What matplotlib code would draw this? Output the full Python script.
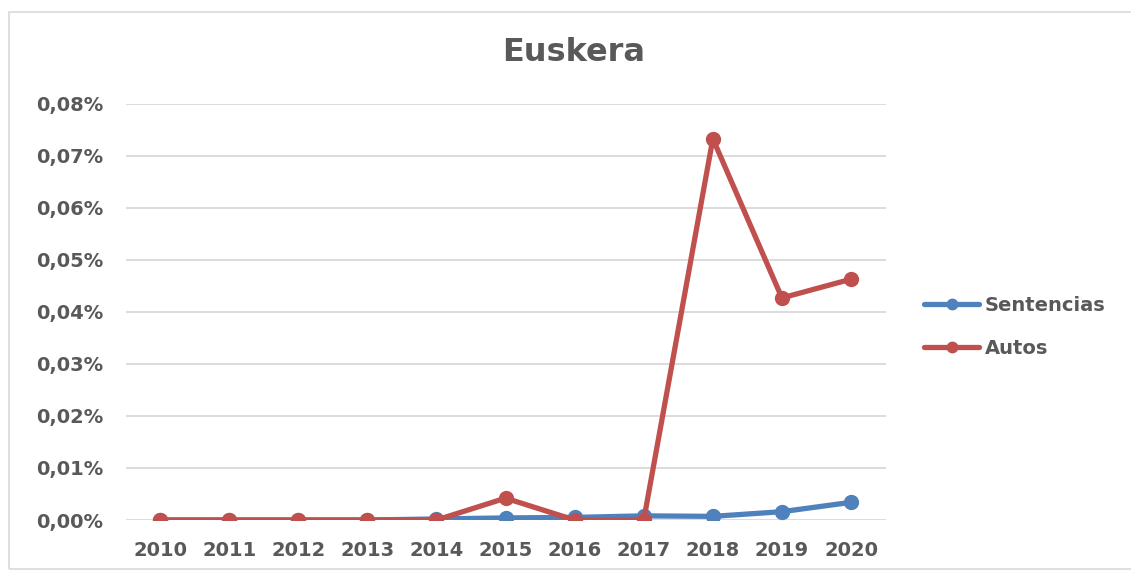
import matplotlib.pyplot as plt
from matplotlib.patches import Rectangle
from matplotlib.ticker import FuncFormatter

years = ['2010', '2011', '2012', '2013', '2014', '2015', '2016', '2017', '2018', '2019', '2020']
# values in percent
sentencias = [0.0, 0.0, 0.0, 0.0, 0.0002, 0.0004, 0.0005, 0.0008, 0.0007, 0.0016, 0.0034]
autos = [0.0, 0.0, 0.0, 0.0, 0.0, 0.0042, 0.0, 0.0, 0.0733, 0.0427, 0.0463]

txt = '#595959'
plt.rcParams['font.family'] = ['DejaVu Sans']

fig = plt.figure(figsize=(11.31, 5.71), dpi=100)
ax = fig.add_axes([0.111, 0.0893, 0.672, 0.7287])

# chart border
fig.patches.append(Rectangle((9 / 1131, 0.003), 1.2, 1 - 12 / 571 - 0.003,
                             transform=fig.transFigure, fill=False,
                             edgecolor='#d9d9d9', linewidth=1.2))

x = list(range(len(years)))
ax.plot(x, sentencias, color='#4F81BD', linewidth=3.8, marker='o', markersize=10,
        label='Sentencias', solid_capstyle='round', zorder=3)
ax.plot(x, autos, color='#C0504D', linewidth=3.8, marker='o', markersize=10,
        label='Autos', solid_capstyle='round', zorder=4)

ax.set_xlim(-0.5, len(years) - 0.5)
ax.set_ylim(0, 0.08)
ax.set_yticks([i / 100 for i in range(9)])
ax.yaxis.set_major_formatter(FuncFormatter(lambda v, p: f'{v:.2f}%'.replace('.', ',')))
ax.set_xticks(x)
ax.set_xticklabels(years)
ax.grid(axis='y', color='#d9d9d9', linewidth=1.3)
ax.set_axisbelow(True)
for s in ax.spines.values():
    s.set_visible(False)
ax.tick_params(length=0, labelsize=14, labelcolor=txt)
ax.tick_params(axis='y', pad=16)
ax.tick_params(axis='x', pad=15)
for lab in ax.get_xticklabels() + ax.get_yticklabels():
    lab.set_fontweight('bold')

fig.text(0.507, 0.908, 'Euskera', ha='center', va='center', fontsize=23,
         fontweight='bold', color=txt)

leg = ax.legend(loc='center left', bbox_to_anchor=(1.028, 0.464), frameon=False,
                prop={'weight': 'bold', 'size': 14}, handlelength=2.8,
                handletextpad=0.3, labelspacing=1.2, markerscale=0.75)
for t in leg.get_texts():
    t.set_color(txt)

plt.savefig('out.png')
